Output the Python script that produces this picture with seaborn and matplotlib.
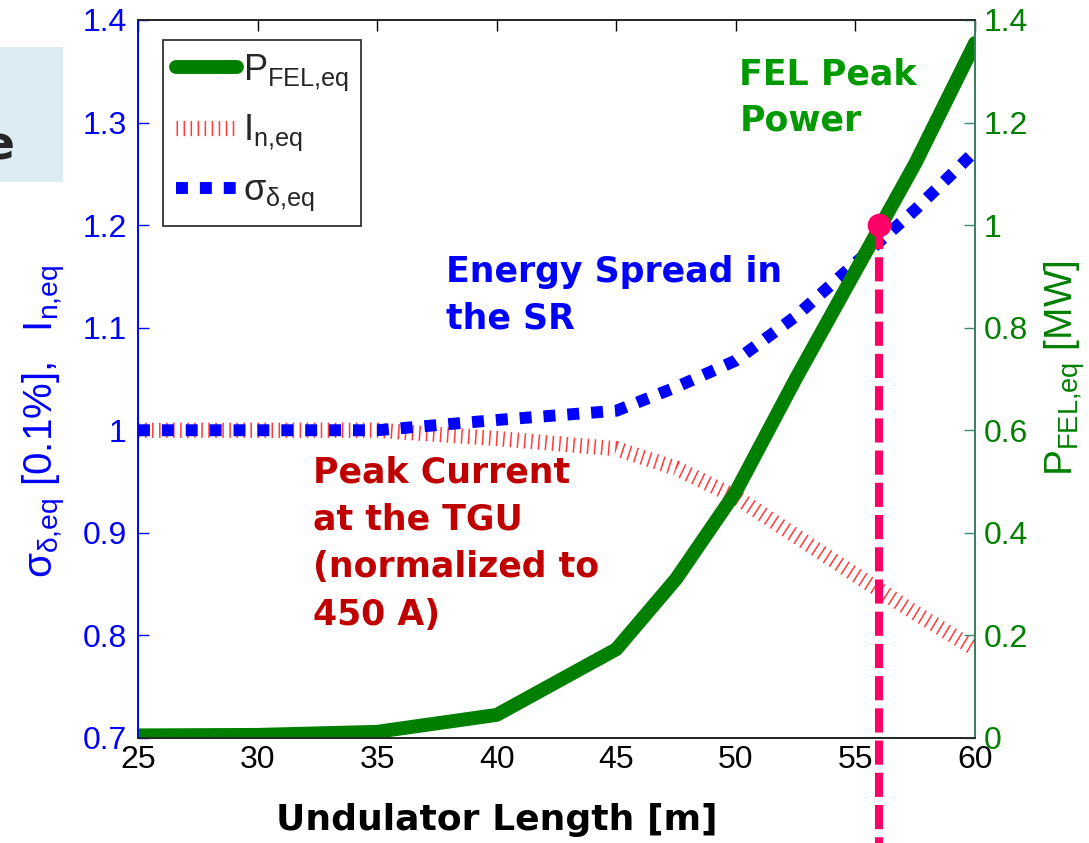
import numpy as np
import pandas as pd
import matplotlib
matplotlib.use('Agg')
import matplotlib.pyplot as plt
import seaborn as sns
from matplotlib.patches import Rectangle
from matplotlib.lines import Line2D
from matplotlib.ticker import FormatStrFormatter

# Undulator length [m]
length = [25, 30, 35, 40, 45, 47.5, 50, 52.5, 55, 57.5, 60]
# FEL peak power [MW] (right axis)
p_fel = [0.005, 0.006, 0.012, 0.045, 0.173, 0.31, 0.48, 0.70, 0.91, 1.12, 1.355]
# normalized peak current (left axis)
i_n = [1.0, 1.0, 1.0, 0.992, 0.982, 0.963, 0.935, 0.897, 0.859, 0.822, 0.787]
# energy spread [0.1%] (left axis)
sigma = [1.0, 1.0, 1.0, 1.010, 1.019, 1.042, 1.068, 1.111, 1.163, 1.215, 1.272]
# chosen working point
mark_x = [56]
mark_y = [1.0]

left_ticks = [0.7, 0.8, 0.9, 1.0, 1.1, 1.2, 1.3, 1.4]
right_ticks = [0, 0.2, 0.4, 0.6, 0.8, 1.0, 1.2, 1.4]
x_ticks = [25, 30, 35, 40, 45, 50, 55, 60]

df = pd.DataFrame({'L': length, 'P': p_fel, 'I': i_n, 'S': sigma})

sns.set_style("white")
plt.rcParams['font.family'] = ['Liberation Sans', 'DejaVu Sans']
plt.rcParams['mathtext.fontset'] = 'custom'
plt.rcParams['mathtext.rm'] = 'Liberation Sans'
plt.rcParams['mathtext.it'] = 'Liberation Sans'

GREEN = '#007f00'
BLUE = '#0000ff'
RED = '#ff3b3b'
PINK = '#ff0066'
ANN = 'DejaVu Sans'

fig = plt.figure(figsize=(10.89, 8.43), dpi=100)
ax = fig.add_axes([0.1267, 0.1246, 0.7686, 0.8517])
ax2 = ax.twinx()

# left axis: current and energy spread
sns.lineplot(data=df, x='L', y='I', ax=ax, color=RED, linewidth=11,
             legend=False)
ax.lines[-1].set_linestyle((0, (0.1, 0.36)))
ax.lines[-1].set_dash_capstyle('butt')
sns.lineplot(data=df, x='L', y='S', ax=ax, color=BLUE, linewidth=8.6,
             legend=False)
ax.lines[-1].set_linestyle((0, (1, 1)))

# right axis: FEL power
sns.lineplot(data=df, x='L', y='P', ax=ax2, color=GREEN, linewidth=10,
             legend=False)
ax2.plot([mark_x[0], mark_x[0]], [mark_y[0], -0.3], color=PINK, lw=5.8,
         dashes=(3, 1), clip_on=False, zorder=5)
ax2.plot(mark_x, mark_y, 'o', color=PINK, markersize=16, zorder=6)

ax.set_xlim(25, 60)
ax.set_ylim(0.7, 1.4)
ax2.set_ylim(0, 1.4)
ax.set_xticks(x_ticks)
ax.set_yticks(left_ticks)
ax2.set_yticks(right_ticks)
ax.yaxis.set_major_formatter(FormatStrFormatter('%g'))
ax2.yaxis.set_major_formatter(FormatStrFormatter('%g'))
ax.set_xlabel('')
ax.set_ylabel('')
ax2.set_ylabel('')

ax.tick_params(axis='x', direction='in', length=8, width=1, top=True,
               labelsize=23, colors='black', pad=5)
ax.tick_params(axis='y', direction='in', length=8, width=1, colors=BLUE,
               labelsize=23, pad=8)
ax2.tick_params(axis='y', direction='in', length=8, width=1, colors=GREEN,
                labelsize=23, pad=6)
ax2.tick_params(axis='y', color='#3d8a6e')
for a in (ax, ax2):
    for s in a.spines.values():
        s.set_linewidth(1.2)
        s.set_color('#222222')
ax.spines['left'].set_color(BLUE)
ax2.spines['left'].set_color(BLUE)
ax2.spines['right'].set_color('#3d8a6e')

# legend
h = [Line2D([], [], color=GREEN, lw=10),
     Line2D([], [], color=RED, lw=11, ls=(0, (0.1, 0.36)), dash_capstyle='butt'),
     Line2D([], [], color=BLUE, lw=8.6, ls=(0, (1, 1)))]
labels = [r'$\mathregular{P_{FEL{,}eq}}$', r'$\mathregular{I_{n{,}eq}}$',
          r'$\mathregular{\sigma_{\delta{,}eq}}$']
leg = ax2.legend(h, labels, loc='upper left', bbox_to_anchor=(0.03, 0.972),
                 fontsize=26, handlelength=1.7, handletextpad=0.15,
                 labelspacing=0.55, borderpad=0.35, borderaxespad=0,
                 fancybox=False, framealpha=1, edgecolor='#222222')
leg.get_frame().set_linewidth(1.2)

# axis titles
fig.text(0.456, 0.027, 'Undulator Length [m]', fontsize=26, fontweight='bold',
         family=ANN, color='black', ha='center', va='center')
fig.text(0.041, 0.500,
         r'$\mathregular{\sigma_{\delta{,}eq}\ [0.1\%],\ \ I_{n{,}eq}}$',
         rotation=90, color=BLUE, fontsize=29, ha='center', va='center')
fig.text(0.978, 0.563, r'$\mathregular{P_{FEL{,}eq}\ [MW]}$', rotation=90,
         color=GREEN, fontsize=28, ha='center', va='center')

# annotations
fig.text(0.679, 0.932, 'FEL Peak\nPower', color='#009900', fontsize=25,
         fontweight='bold', family=ANN, va='top', linespacing=1.45)
fig.text(0.410, 0.697, 'Energy Spread in\nthe SR', color=BLUE, fontsize=25,
         fontweight='bold', family=ANN, va='top', linespacing=1.45)
fig.text(0.287, 0.460, 'Peak Current\nat the TGU\n(normalized to\n450 A)',
         color='#c00000', fontsize=25, fontweight='bold', family=ANN,
         va='top', linespacing=1.5)

# cropped slide box at the left edge
fig.patches.append(Rectangle((0, 0.784), 0.058, 0.16, transform=fig.transFigure,
                             facecolor='#dcecf2', edgecolor='none', zorder=0))
fig.text(0.014, 0.826, 'e', fontsize=34, fontweight='bold', family=ANN,
         ha='right', va='center')

fig.savefig('out.png', dpi=100)
